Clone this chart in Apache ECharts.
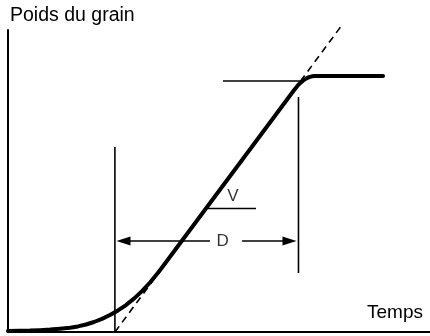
<!DOCTYPE html>
<html>
<head>
<meta charset="utf-8">
<script src="https://cdn.jsdelivr.net/npm/echarts@6/dist/echarts.min.js"></script>
<style>
html,body{margin:0;padding:0;background:#fff;}
#chart{width:430px;height:336px;}
</style>
</head>
<body>
<div id="chart"></div>
<script>
// Grain weight curve (time in arbitrary days, weight in relative units)
const curveTime   = [0, 1.71, 3.13, 4.55, 5.97, 7.39, 8.82, 9.95, 11.09, 12.23, 13.36, 14.50, 15.64, 16.78, 17.91, 19.05, 20.19, 21.33, 21.90, 40.66, 41.09, 41.52, 41.94, 42.37, 42.80, 43.22, 43.65, 53.32];
const curveWeight = [0.33, 0.40, 0.46, 0.60, 0.79, 1.06, 1.39, 1.85, 2.48, 3.31, 4.34, 5.61, 7.15, 8.92, 11.06, 13.54, 16.39, 19.60, 21.36, 80.07, 81.31, 82.37, 83.23, 83.90, 84.38, 84.67, 84.77, 84.77];

// Tangent (linear phase extrapolation)
const tangentTime   = [15.21, 47.49];
const tangentWeight = [0, 101.66];

// Marker lines
const startLineTime = [15.2, 15.2];
const startLineWeight = [0, 61.26];
const endLineTime = [41.3, 41.3];
const endLineWeight = [19.54, 77.82];
const plateauLineTime = [30.57, 41.52];
const plateauLineWeight = [83.11, 83.11];
const rateLineTime = [28.29, 35.26];
const rateLineWeight = [40.9, 40.9];

// Duration arrow D
const durArrowWeight = 30.13;
const durLeftFrom = 28.72, durLeftTo = 16.42;
const durRightFrom = 33.28, durRightTo = 40.02;

// Annotation labels
const labelNames = ['V', 'D'];
const labelTime = [31.99, 30.5];
const labelWeight = [45.03, 30.13];

const axisTitleY = 'Poids du grain';
const axisTitleX = 'Temps';

const zip = (a, b) => a.map((v, i) => [v, b[i]]);
const thin = (name, t, w) => ({
  name, type: 'line', data: zip(t, w), showSymbol: false, silent: true,
  lineStyle: { color: '#000', width: 1.6 }, clip: false
});

const chart = echarts.init(document.getElementById('chart'), null, { renderer: 'canvas' });
chart.setOption({
  animation: false,
  backgroundColor: '#fff',
  title: [
    { text: axisTitleY, left: 10, top: 6, padding: 0,
      textStyle: { fontFamily: 'Liberation Sans, Arial, sans-serif', fontSize: 19.5, fontWeight: 'normal', color: '#000', lineHeight: 20 } },
    { text: axisTitleX, left: 367, top: 303, padding: 0,
      textStyle: { fontFamily: 'Liberation Sans, Arial, sans-serif', fontSize: 19, fontWeight: 'normal', color: '#000', lineHeight: 20 } }
  ],
  grid: { left: 8, right: 0, top: 30, bottom: 4, containLabel: false },
  xAxis: {
    type: 'value', min: 0, max: 60,
    axisLine: { show: true, lineStyle: { color: '#000', width: 2 } },
    axisTick: { show: false }, axisLabel: { show: false }, splitLine: { show: false }
  },
  yAxis: {
    type: 'value', min: 0, max: 100,
    axisLine: { show: true, lineStyle: { color: '#000', width: 2 } },
    axisTick: { show: false }, axisLabel: { show: false }, splitLine: { show: false }
  },
  series: [
    {
      name: 'tangent', type: 'line', data: zip(tangentTime, tangentWeight),
      showSymbol: false, silent: true, clip: false,
      lineStyle: { color: '#000', width: 1.6, type: [7, 5] }
    },
    thin('start', startLineTime, startLineWeight),
    thin('end', endLineTime, endLineWeight),
    Object.assign(thin('plateau', plateauLineTime, plateauLineWeight), {
      markLine: {
        silent: true, symbol: ['none', 'triangle'], symbolSize: [9, 14],
        label: { show: false },
        lineStyle: { color: '#000', width: 1.6, type: 'solid' },
        emphasis: { disabled: true },
        data: [
          [{ coord: [durLeftFrom, durArrowWeight] }, { coord: [durLeftTo, durArrowWeight] }],
          [{ coord: [durRightFrom, durArrowWeight] }, { coord: [durRightTo, durArrowWeight] }]
        ]
      }
    }),
    thin('rate', rateLineTime, rateLineWeight),
    {
      name: 'grain', type: 'line', data: zip(curveTime, curveWeight),
      showSymbol: false, silent: true, smooth: false, clip: false,
      lineStyle: { color: '#000', width: 4, cap: 'round', join: 'round' }
    },
    {
      name: 'labels', type: 'scatter', silent: true,
      data: labelNames.map((n, i) => ({ name: n, value: [labelTime[i], labelWeight[i]] })),
      symbolSize: 1, itemStyle: { color: 'rgba(0,0,0,0)' },
      label: { show: true, position: 'inside', formatter: p => p.name,
        fontFamily: 'Liberation Sans, Arial, sans-serif', fontSize: 17, color: '#000' }
    }
  ]
});
</script>
</body>
</html>
